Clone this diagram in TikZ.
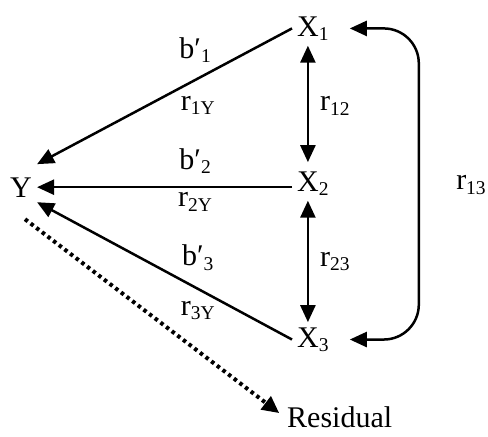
\documentclass[tikz,border=0pt]{standalone}
\usepackage{fontspec}
\setmainfont{Liberation Serif}
\usetikzlibrary{arrows.meta,positioning}
\newcommand{\sbs}[1]{\raisebox{-4.5pt}{\fontsize{19.5}{20}\selectfont #1}}
\tikzset{
  var/.style={inner sep=5pt, anchor=base west},
  coef/.style={inner sep=2pt},
  effect/.style={-{Triangle[length=17pt,width=15pt]}, line width=2.5pt},
  corr/.style={{Triangle[length=17pt,width=15pt]}-{Triangle[length=17pt,width=15pt]}, line width=2.5pt},
  resid/.style={-{Triangle[length=17pt,width=16pt]}, line width=4pt, dash pattern=on 3.5pt off 3.6pt}
}

\begin{document}
\begin{tikzpicture}[x=1pt, y=-1pt, font=\fontsize{30}{34}\selectfont]
  \useasboundingbox (0,0) rectangle (488,437);

  \node[var] (y) at (5,197) {Y};
  \node[var] (x1) at (292,36) {X\sbs{1}};
  \node[var] (x2) at (292,191) {X\sbs{2}};
  \node[var] (x3) at (292,347) {X\sbs{3}};
  \node[var, inner sep=3pt] (res) at (284,427) {Residual};

  \draw[effect] (x1.west) -- node[coef, pos=0.38, above=14pt] (b1) {b′\sbs{1}}
    node[coef, pos=0.37, below=14pt] (r1y) {r\sbs{1Y}} ([yshift=8pt]y.north east);
  \draw[effect] (x2.west |- y.east) -- node[coef, pos=0.38, above=10pt] (b2) {b′\sbs{2}}
    node[coef, pos=0.38, below=2pt] (r2y) {r\sbs{2Y}} (y.east);
  \draw[effect] (x3.west) -- node[coef, pos=0.37, above=15pt] (b3) {b′\sbs{3}}
    node[coef, pos=0.37, below=9pt] (r3y) {r\sbs{3Y}} (y.south east);

  \draw[corr, shorten >=4pt] ([xshift=-5pt]x1.south) -- node[coef, right=9pt] (r12) {r\sbs{12}} ([xshift=-5pt]x2.north);
  \draw[corr] ([xshift=-5pt]x2.south) -- node[coef, right=9pt] (r23) {r\sbs{23}} ([xshift=-5pt]x3.north);
  \draw[corr, rounded corners=35pt] ([xshift=16pt]x1.east) -| ([xshift=85pt]x2.east) |- ([xshift=16pt]x3.east);
  \node[coef] (r13) at (471,185) {r\sbs{13}};

  \draw[resid, shorten >=6pt] ([xshift=4pt,yshift=-17pt]y.south) -- (res.west);
\end{tikzpicture}
\end{document}
